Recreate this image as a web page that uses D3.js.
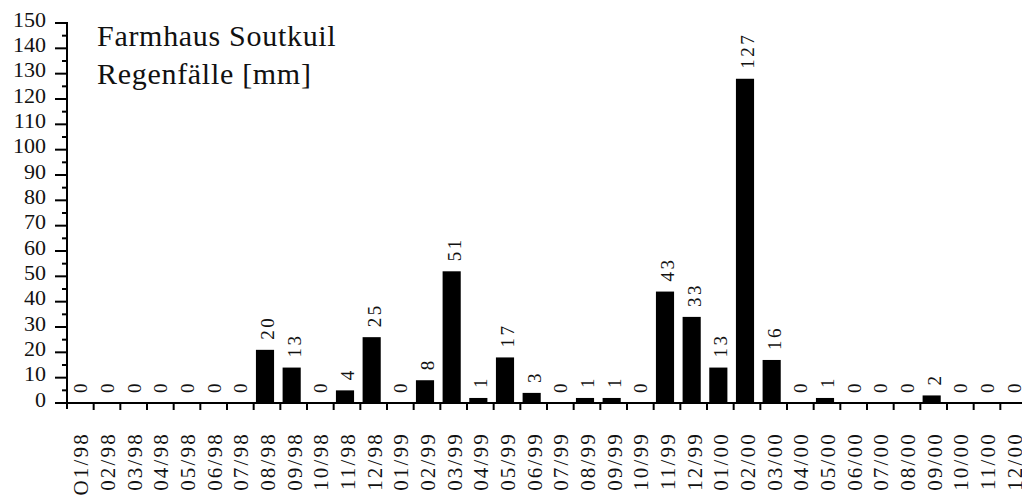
<!DOCTYPE html>
<html><head><meta charset="utf-8">
<script src="https://cdn.jsdelivr.net/npm/d3@7"></script>
<style>body{margin:0;background:#fff}svg{display:block}</style>
</head><body>
<script>
const months = ["O1/98","02/98","03/98","04/98","05/98","06/98","07/98","08/98","09/98","10/98","11/98","12/98",
"01/99","02/99","03/99","04/99","05/99","06/99","07/99","08/99","09/99","10/99","11/99","12/99",
"01/00","02/00","03/00","04/00","05/00","06/00","07/00","08/00","09/00","10/00","11/00","12/00"];
const rainfall = [0,0,0,0,0,0,0,20,13,0,4,25, 0,8,51,1,17,3,0,1,1,0,43,33, 13,127,16,0,1,0,0,0,2,0,0,0];
const yTicks = [0,10,20,30,40,50,60,70,80,90,100,110,120,130,140,150];
const titleLines = ["Farmhaus Soutkuil","Regenfälle [mm]"];

const W=1022,H=497;
const svg=d3.select("body").append("svg").attr("width",W).attr("height",H);
const font="'Liberation Serif','Times New Roman',serif";
const x=d3.scaleBand().domain(months).range([67,1027]).paddingInner(0.32).paddingOuter(0.16);
const y=d3.scaleLinear().domain([0,150]).range([403,23]);
const step=x.step();
const bandStart=d=>x(d)-x.paddingOuter()*step;
const lift=d=>d>0?2.5:0;

// bars
svg.append("g").selectAll("rect").data(rainfall).join("rect")
 .attr("x",(d,i)=>x(months[i])-2).attr("width",x.bandwidth())
 .attr("y",d=>y(d)-lift(d)).attr("height",d=>y(0)-y(d)+lift(d)).attr("fill","#000");

// y axis
const yMinor=d3.range(5,150,10);
const ya=svg.append("g").attr("stroke","#000");
ya.append("line").attr("x1",67).attr("x2",67).attr("y1",y(150)-1).attr("y2",y(0)+6).attr("stroke-width",2);
ya.selectAll("line.mj").data(yTicks).join("line").attr("class","mj")
 .attr("x1",55).attr("x2",67).attr("y1",d=>y(d)).attr("y2",d=>y(d)).attr("stroke-width",2);
ya.selectAll("line.mn").data(yMinor).join("line").attr("class","mn")
 .attr("x1",62).attr("x2",67).attr("y1",d=>y(d)).attr("y2",d=>y(d)).attr("stroke-width",2);
svg.append("g").selectAll("text").data(yTicks).join("text")
 .attr("x",46).attr("y",d=>y(d)-4).attr("dy","0.35em").attr("text-anchor","end")
 .attr("font-family",font).attr("font-size",22).attr("letter-spacing",0).attr("fill","#111")
 .text(d=>d);

// x axis
const xa=svg.append("g").attr("stroke","#000");
xa.append("line").attr("x1",66).attr("x2",W).attr("y1",y(0)).attr("y2",y(0)).attr("stroke-width",2);
xa.selectAll("line.t").data(months.slice(1)).join("line").attr("class","t")
 .attr("x1",d=>bandStart(d)).attr("x2",d=>bandStart(d))
 .attr("y1",y(0)).attr("y2",y(0)+7).attr("stroke-width",2);
svg.append("g").selectAll("text").data(months).join("text")
 .attr("transform",d=>`translate(${bandStart(d)+step/2+8},${y(0)+29}) rotate(-90)`)
 .attr("text-anchor","end").attr("font-family",font).attr("font-size",21).attr("letter-spacing",2.2)
 .attr("fill","#111").text(d=>d);

// value labels
svg.append("g").selectAll("text").data(rainfall).join("text")
 .attr("transform",(d,i)=>`translate(${bandStart(months[i])+step/2+7},${y(d)-10-lift(d)}) rotate(-90)`)
 .attr("text-anchor","start").attr("font-family",font).attr("font-size",19).attr("letter-spacing",2.5)
 .attr("fill","#111").text(d=>d);

// title
svg.append("g").selectAll("text").data(titleLines).join("text")
 .attr("x",97).attr("y",(d,i)=>46+i*38).attr("font-family",font).attr("font-size",30).attr("letter-spacing",0.7)
 .attr("fill","#111").text(d=>d);
</script>
</body></html>
